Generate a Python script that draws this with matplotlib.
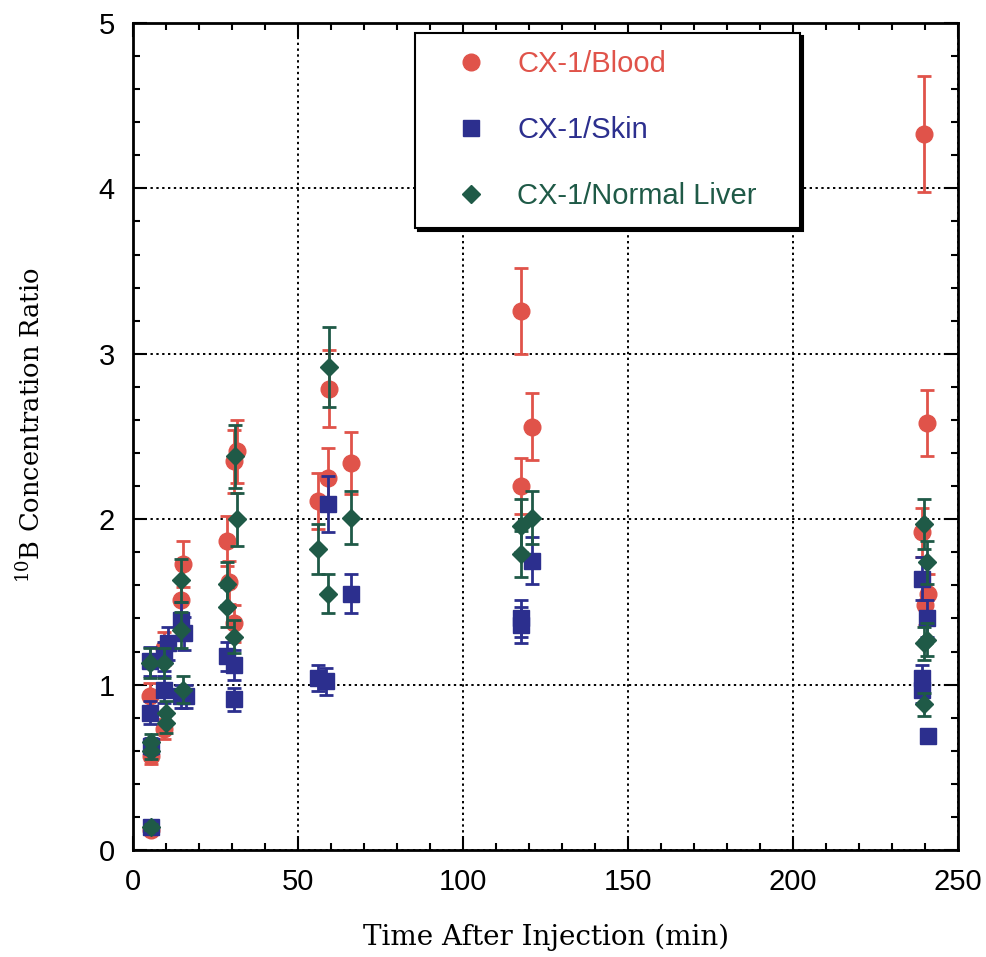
import matplotlib
matplotlib.use("Agg")
import matplotlib.pyplot as plt
from matplotlib.ticker import MultipleLocator
from matplotlib.lines import Line2D

# ---- data ----
blood_x = [5.0, 5.5, 5.5, 9.5, 9.5, 14.5, 15.0, 28.5, 29.0, 30.5, 30.5, 31.5,
           56.0, 59.0, 59.5, 66.0, 117.5, 117.5, 121.0, 239.5, 240.5, 239.0, 240.0, 241.0]
blood_y = [0.93, 0.57, 0.12, 0.73, 1.22, 1.51, 1.73, 1.87, 1.62, 1.37, 2.35, 2.41,
           2.11, 2.25, 2.79, 2.34, 3.26, 2.20, 2.56, 4.33, 2.58, 1.92, 1.48, 1.55]
blood_e = [0.08, 0.05, 0.02, 0.06, 0.10, 0.12, 0.14, 0.15, 0.13, 0.11, 0.19, 0.19,
           0.17, 0.18, 0.23, 0.19, 0.26, 0.17, 0.20, 0.35, 0.20, 0.15, 0.12, 0.12]

skin_x = [5.0, 5.0, 5.5, 5.5, 9.5, 10.5, 9.5, 14.5, 14.5, 16.0, 15.5, 28.5, 30.5, 30.5,
          56.0, 58.5, 59.0, 66.0, 117.5, 117.5, 121.0, 239.0, 240.5, 239.0, 239.0, 241.0]
skin_y = [1.14, 0.83, 0.63, 0.14, 1.17, 1.25, 0.97, 1.39, 0.93, 0.93, 1.31, 1.17, 1.12, 0.91,
          1.04, 1.02, 2.09, 1.55, 1.40, 1.36, 1.75, 1.64, 1.40, 1.04, 0.97, 0.69]
skin_e = [0.09, 0.07, 0.05, 0.02, 0.09, 0.10, 0.08, 0.11, 0.07, 0.07, 0.10, 0.09, 0.09, 0.07,
          0.08, 0.08, 0.17, 0.12, 0.11, 0.11, 0.14, 0.13, 0.11, 0.08, 0.08, 0.03]

liver_x = [5.0, 5.5, 5.5, 5.5, 9.5, 10.0, 10.0, 14.5, 14.5, 15.0, 31.0, 31.5, 28.5, 28.5, 30.5,
           56.0, 59.0, 59.5, 66.0, 117.5, 117.5, 121.0, 239.5, 240.5, 240.5, 239.5, 239.5]
liver_y = [1.13, 0.65, 0.60, 0.14, 1.13, 0.83, 0.77, 1.63, 1.33, 0.97, 2.38, 2.00, 1.61, 1.47, 1.29,
           1.82, 1.55, 2.92, 2.01, 1.96, 1.79, 2.01, 1.97, 1.74, 1.27, 1.25, 0.88]
liver_e = [0.09, 0.05, 0.05, 0.02, 0.09, 0.07, 0.06, 0.13, 0.11, 0.08, 0.19, 0.16, 0.13, 0.12, 0.10,
           0.15, 0.12, 0.24, 0.16, 0.16, 0.14, 0.16, 0.15, 0.13, 0.10, 0.10, 0.07]

labels = ["CX-1/Blood", "CX-1/Skin", "CX-1/Normal Liver"]
colors = ["#e0534a", "#2c2f8e", "#1f5a47"]
markers = ["o", "s", "D"]
msizes = [12, 11.5, 9.5]

x_ticks = [0, 50, 100, 150, 200, 250]
y_ticks = [0, 1, 2, 3, 4, 5]

# ---- figure ----
plt.rcParams["mathtext.fontset"] = "custom"
plt.rcParams["mathtext.rm"] = "DejaVu Serif"

fig = plt.figure(figsize=(9.87, 9.57), dpi=100)
ax = fig.add_axes([0.1348, 0.1118, 0.836, 0.8642])

series = [(blood_x, blood_y, blood_e), (skin_x, skin_y, skin_e), (liver_x, liver_y, liver_e)]
for i, (xs, ys, es) in enumerate(series):
    ax.errorbar(xs, ys, yerr=es, fmt=markers[i], color=colors[i], ms=msizes[i],
                mec=colors[i], ecolor=colors[i], elinewidth=2, capsize=5, capthick=2,
                zorder=3 + i, label=labels[i])

ax.set_xlim(0, 250)
ax.set_ylim(0, 5)
ax.set_xticks(x_ticks)
ax.set_yticks(y_ticks)
ax.xaxis.set_minor_locator(MultipleLocator(10))
ax.yaxis.set_minor_locator(MultipleLocator(0.2))
ax.tick_params(which="both", direction="in", top=True, right=True, width=1.5)
ax.tick_params(which="major", length=10, labelsize=21)
ax.tick_params(axis="x", which="major", pad=13)
ax.tick_params(axis="y", which="major", pad=13)
ax.tick_params(which="minor", length=5)
for lab in ax.get_xticklabels() + ax.get_yticklabels():
    lab.set_fontfamily("Liberation Sans")
for s in ax.spines.values():
    s.set_linewidth(2)
ax.grid(True, which="major", color="black", linestyle=(0, (1.2, 1.8)), linewidth=1.4)
ax.set_axisbelow(True)

ax.set_xlabel("Time After Injection (min)", fontsize=20, family="DejaVu Serif", labelpad=20)
ax.set_ylabel(r"$^{10}$B Concentration Ratio", fontsize=18.5, family="DejaVu Serif")
ax.yaxis.set_label_coords(-0.107, 0.513)

# legend (markers only)
leg_handles = [Line2D([], [], marker=markers[i], color=colors[i], linestyle="none",
                      ms=msizes[i]) for i in range(3)]
leg = ax.legend(leg_handles, labels, loc="upper left",
                bbox_to_anchor=(0.342, 0.758, 0.4667, 0.23), mode="expand",
                prop={"family": "Liberation Sans", "size": 21}, frameon=True,
                fancybox=False, edgecolor="black", framealpha=1, labelspacing=1.3,
                handletextpad=0.3, borderpad=0.6, borderaxespad=0, handlelength=2.6,
                shadow={"color": "black", "alpha": 1})
leg.get_frame().set_linewidth(1.5)
leg.set_zorder(10)
for t, c in zip(leg.get_texts(), colors):
    t.set_color(c)

fig.savefig("out.png", dpi=100)
